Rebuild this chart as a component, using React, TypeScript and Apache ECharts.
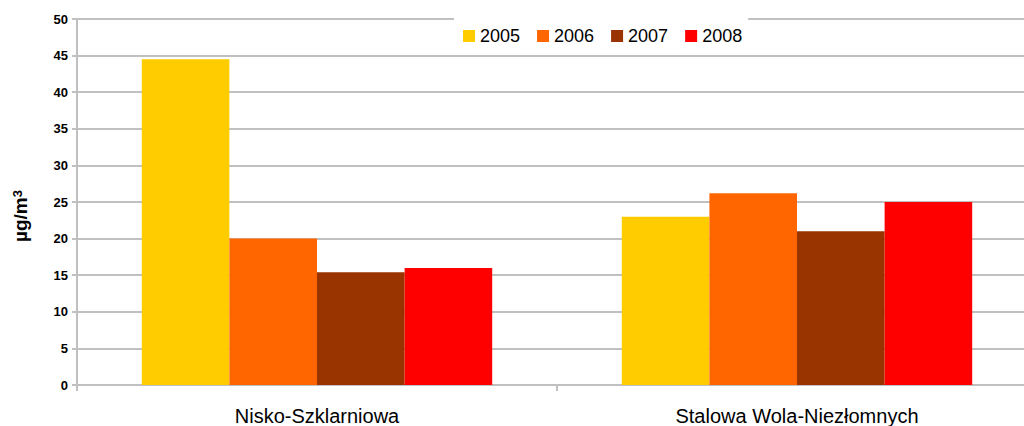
import React, { useEffect, useRef } from "react";
import * as echarts from "echarts";

const categories = ["Nisko-Szklarniowa", "Stalowa Wola-Niezłomnych"];
const years = ["2005", "2006", "2007", "2008"];
const values2005 = [44.5, 23.0];
const values2006 = [20.0, 26.2];
const values2007 = [15.4, 21.0];
const values2008 = [16.0, 25.0];
const colors = ["#FFCC00", "#FF6600", "#993300", "#FF0000"];

const FONT = "'Liberation Sans', Arial, sans-serif";

export default function App() {
  const ref = useRef<HTMLDivElement>(null);
  useEffect(() => {
    if (!ref.current) return;
    const chart = echarts.init(ref.current, null, { renderer: "svg" });
    const seriesValues = [values2005, values2006, values2007, values2008];
    chart.setOption({
      animation: false,
      backgroundColor: "#ffffff",
      textStyle: { fontFamily: FONT },
      grid: { left: 77, top: 19, width: 960, height: 366, containLabel: false },
      legend: {
        data: years,
        left: 454,
        top: 17,
        orient: "horizontal",
        itemWidth: 12,
        itemHeight: 12,
        itemGap: 17,
        icon: "rect",
        padding: [10, 6, 8, 9],
        backgroundColor: "#ffffff",
        textStyle: { fontFamily: FONT, fontSize: 18, color: "#000000" },
      },
      xAxis: {
        type: "category",
        data: categories,
        axisLine: { show: true, lineStyle: { color: "#c0c0c0", width: 2 } },
        axisTick: { show: true, length: 6, lineStyle: { color: "#c0c0c0", width: 2 } },
        axisLabel: { fontFamily: FONT, fontSize: 20, color: "#000000", margin: 21 },
        splitLine: { show: false },
      },
      yAxis: {
        type: "value",
        min: 0,
        max: 50,
        interval: 5,
        axisLine: { show: true, lineStyle: { color: "#c0c0c0", width: 2 } },
        axisTick: { show: true, length: 5, lineStyle: { color: "#c0c0c0", width: 2 } },
        axisLabel: {
          fontFamily: FONT,
          fontSize: 13,
          fontWeight: "bold",
          color: "#000000",
          margin: 9,
        },
        splitLine: { show: true, lineStyle: { color: "#c0c0c0", width: 2 } },
      },
      graphic: [
        {
          type: "text",
          x: 20,
          y: 216,
          rotation: Math.PI / 2,
          style: {
            text: "{a|µg/m}{s|3}",
            align: "center",
            verticalAlign: "middle",
            rich: {
              a: { fontFamily: FONT, fontSize: 19, fontWeight: "bold", fill: "#000", verticalAlign: "bottom" },
              s: { fontFamily: FONT, fontSize: 13, fontWeight: "bold", fill: "#000", verticalAlign: "top" },
            },
          },
        },
      ],
      series: years.map((y, i) => ({
        name: y,
        type: "bar",
        data: seriesValues[i],
        barGap: "0%",
        barCategoryGap: "27%",
        itemStyle: { color: colors[i] },
      })),
    });
    return () => chart.dispose();
  }, []);
  return (
    <div style={{ width: 1024, height: 426, position: "absolute", left: 0, top: 0, overflow: "hidden" }}>
      <div ref={ref} style={{ width: 1045, height: 426 }} />
    </div>
  );
}
